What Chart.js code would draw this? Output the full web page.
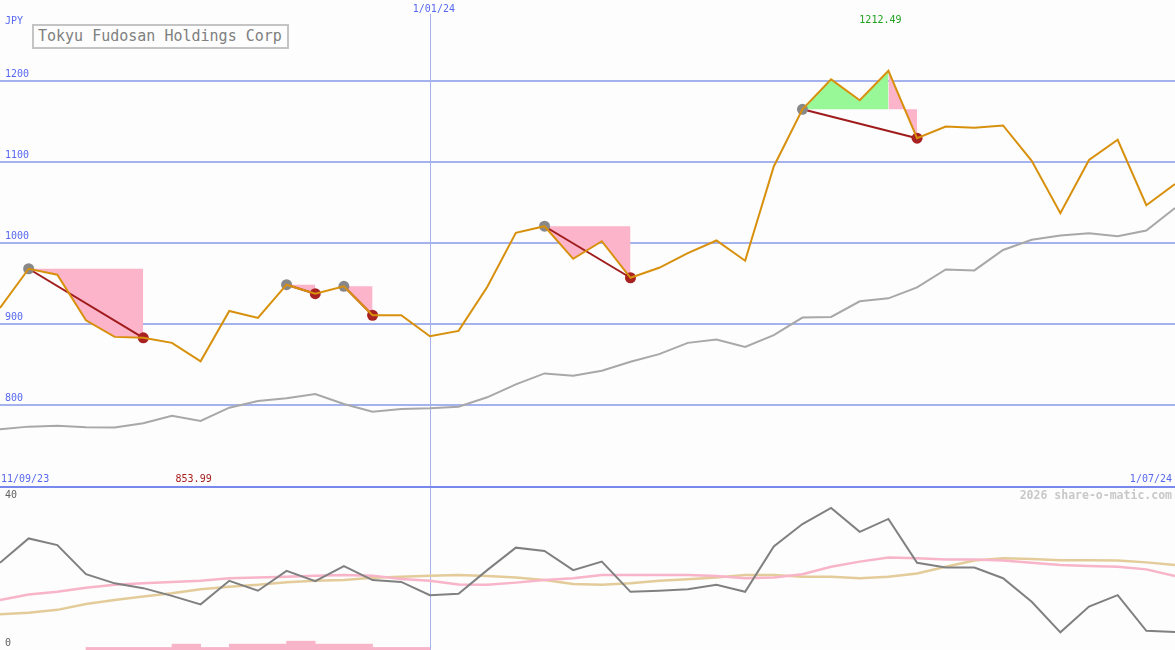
<!DOCTYPE html>
<html>
<head>
<meta charset="utf-8">
<script src="https://cdn.jsdelivr.net/npm/chart.js@4.4.1/dist/chart.umd.min.js"></script>
<style>
  body { margin: 0; background: #fcfdfc; }
  #wrap { position: relative; width: 1175px; height: 650px; background: #fcfdfc; overflow: hidden; }
  #top { position: absolute; left: 0; top: 0; }
  #sep { position: absolute; left: 0; top: 486px; width: 1175px; height: 2px; background: #7888ec; }
  #bot { position: absolute; left: 0; top: 488px; }
  #title {
    position: absolute; left: 32px; top: 24px; width: 249px; height: 21px;
    padding-left: 4px; border: 2px solid #c4c4c4; background: #fcfdfc;
    font: 15px 'DejaVu Sans Mono', monospace; line-height: 21px; color: #808080; white-space: nowrap;
  }
</style>
</head>
<body>
<div id="wrap">
  <canvas id="top" width="1175" height="486"></canvas>
  <div id="sep"></div>
  <canvas id="bot" width="1175" height="162"></canvas>
  <div id="title">Tokyu Fudosan Holdings Corp</div>
</div>
<script>
// weekly closes, JPY
const price = [919.8, 968.2, 960.8, 904.6, 884.1, 882.9, 876.7, 853.99, 916.1, 907.5,
  948.5, 937.4, 946.5, 910.8, 910.8, 884.9, 891.5, 945.6, 1012.5, 1020.7,
  980.5, 1002.2, 957.1, 969.4, 987.5, 1003.1, 978.1, 1094.5, 1165.1, 1202.0,
  1176.2, 1212.49, 1129.4, 1143.8, 1142.2, 1145.1, 1101.5, 1036.7, 1102.4, 1127.4,
  1046.6, 1072.8];
const movingAvg = [770.1, 773.3, 774.5, 772.5, 772.1, 777.5, 786.8, 780.3, 796.7, 804.9,
  808.2, 813.5, 801.2, 791.8, 795.1, 795.9, 797.9, 809.5, 825.5, 839.0,
  836.1, 842.2, 853.3, 862.8, 876.7, 880.9, 871.7, 886.2, 907.9, 908.7,
  928.0, 931.7, 945.2, 967.4, 966.2, 991.4, 1003.9, 1009.2, 1012.1, 1008.4,
  1015.4, 1043.3];

// drawdown zones: start (gray dot), peak, trough (red dot)
const ddStart = [1, 10, 12, 19, 28];
const ddPeak = [1, 10, 12, 19, 31];
const ddEnd = [5, 11, 13, 22, 32];

// lower panel
const oscLine = [23.7, 30.3, 28.5, 20.6, 18.1, 16.8, 14.7, 12.4, 18.8, 16.1,
  21.5, 18.7, 22.8, 19.0, 18.5, 14.9, 15.3, 21.7, 27.8, 26.9,
  21.7, 24.0, 15.8, 16.1, 16.5, 17.7, 15.8, 28.1, 34.2, 38.6,
  32.1, 35.6, 23.7, 22.4, 22.4, 19.5, 13.1, 4.8, 11.8, 14.9,
  5.2, 4.9];
const oscPink = [13.6, 15.1, 15.8, 16.9, 17.7, 18.1, 18.5, 18.8, 19.5, 19.7,
  19.9, 20.2, 20.4, 20.2, 19.3, 18.8, 17.8, 17.7, 18.3, 19.0,
  19.5, 20.4, 20.4, 20.4, 20.4, 20.1, 19.5, 19.7, 20.6, 22.6,
  24.0, 25.1, 24.9, 24.6, 24.6, 24.3, 23.7, 23.1, 22.8, 22.6,
  21.9, 20.1];
const oscTan = [9.7, 10.1, 10.9, 12.5, 13.6, 14.5, 15.4, 16.5, 17.2, 17.7,
  18.4, 18.8, 19.0, 19.6, 19.9, 20.2, 20.4, 20.1, 19.7, 19.0,
  17.9, 17.7, 18.1, 18.8, 19.2, 19.7, 20.4, 20.4, 19.9, 19.9,
  19.5, 19.9, 20.8, 22.6, 24.3, 24.9, 24.7, 24.4, 24.4, 24.3,
  23.8, 23.1];
const ddBars = [null, null, null, 0.7, 0.7, 0.7, 1.6, 0.7, 1.6, 1.6,
  2.4, 1.6, 1.6, 0.7, 0.7, null, null, null, null, null,
  null, null, null, null, null, null, null, null, null, null,
  null, null, null, null, null, null, null, null, null, null,
  null];

const priceTicks = [800, 900, 1000, 1100, 1200];
const oscTicks = [0, 40];
const firstDate = '11/09/23';
const yearDate = '1/01/24';
const lastDate = '1/07/24';
const yearIdx = 15;

const MONO = "'DejaVu Sans Mono', monospace";
const pts = (arr, dx = 0) => arr.map((v, i) => ({ x: i + dx, y: v }));
const part = (arr, a, b) => pts(arr.map((v, i) => (i >= a && i <= b ? v : null)));

const datasets = [
  { data: pts(price), borderColor: '#d8900c', borderWidth: 2, pointRadius: 0, order: 0 },
  { data: ddStart.map(i => ({ x: i, y: price[i] })), showLine: false, pointRadius: 5.5,
    pointBackgroundColor: '#888888', pointBorderWidth: 0, order: 1 },
  { data: ddEnd.map(i => ({ x: i, y: price[i] })), showLine: false, pointRadius: 5.5,
    pointBackgroundColor: '#a82222', pointBorderWidth: 0, order: 1 },
  { data: pts(movingAvg), borderColor: '#a8a8a8', borderWidth: 2, pointRadius: 0, order: 9 }
];
ddStart.forEach((s, k) => {
  const level = price.map(() => price[s]);
  datasets.push({ data: [{ x: s, y: price[s] }, { x: ddEnd[k], y: price[ddEnd[k]] }],
    borderColor: '#a01c1c', borderWidth: 2, pointRadius: 0, order: 2 });
  const zones = [];
  if (ddPeak[k] > s) zones.push([s, ddPeak[k], '#98f898']);
  zones.push([ddPeak[k], ddEnd[k], '#fbb4ca']);
  zones.forEach(([a, b, col]) => {
    datasets.push({ data: part(price, a, b), borderWidth: 0, pointRadius: 0, order: 5,
      fill: { target: '+1', above: col, below: col }, backgroundColor: col });
    datasets.push({ data: part(level, a, b), borderWidth: 0, pointRadius: 0, order: 5 });
  });
});

function flatAxis(s) { s.width = 0; s.paddingTop = 0; s.paddingBottom = 0; }

const topNotes = {
  id: 'topNotes',
  beforeDatasetsDraw(chart) {
    const { ctx, scales: { x }, chartArea } = chart;
    const px = Math.round(x.getPixelForValue(yearIdx)) + 0.5;
    ctx.save();
    ctx.strokeStyle = '#a4b2ee';
    ctx.lineWidth = 1;
    ctx.beginPath();
    ctx.moveTo(px, 14);
    ctx.lineTo(px, chartArea.bottom);
    ctx.stroke();
    ctx.restore();
  },
  afterDraw(chart) {
    const { ctx, scales: { x } } = chart;
    ctx.save();
    ctx.font = '10px ' + MONO;
    ctx.textBaseline = 'middle';
    ctx.fillStyle = '#5868f0';
    ctx.textAlign = 'left';
    ctx.fillText('JPY', 5, 21);
    ctx.fillText(firstDate, 1, 479);
    ctx.textAlign = 'center';
    ctx.fillText(yearDate, x.getPixelForValue(yearIdx) + 4, 9);
    ctx.textAlign = 'right';
    ctx.fillText(lastDate, 1172, 479);
    const hi = Math.max(...price), lo = Math.min(...price);
    ctx.textAlign = 'center';
    ctx.fillStyle = '#22a022';
    ctx.fillText(hi.toFixed(2), x.getPixelForValue(price.indexOf(hi)) - 8, 20);
    ctx.fillStyle = '#a82020';
    ctx.fillText(lo.toFixed(2), x.getPixelForValue(price.indexOf(lo)) - 7, 479);
    ctx.restore();
  }
};

new Chart(document.getElementById('top'), {
  type: 'line',
  data: { datasets },
  options: {
    responsive: false, animation: false,
    layout: { padding: 0, autoPadding: false },
    plugins: { legend: { display: false }, tooltip: { enabled: false } },
    elements: { line: { tension: 0 } },
    scales: {
      x: { type: 'linear', min: 0, max: price.length - 1, display: false },
      y: {
        min: 700, max: 1300,
        afterBuildTicks: s => { s.ticks = priceTicks.map(v => ({ value: v })); },
        afterFit: flatAxis,
        border: { display: false },
        grid: { color: '#a4b2ee', lineWidth: 2, drawTicks: false },
        ticks: { mirror: true, padding: 5, labelOffset: -7, color: '#5868f0',
          font: { family: MONO, size: 10 }, callback: v => String(v) }
      }
    }
  },
  plugins: [topNotes]
});

const botNotes = {
  id: 'botNotes',
  beforeDatasetsDraw(chart) {
    const { ctx, scales: { x }, chartArea } = chart;
    const px = Math.round(x.getPixelForValue(yearIdx)) + 0.5;
    ctx.save();
    ctx.strokeStyle = '#a4b2ee';
    ctx.lineWidth = 1;
    ctx.beginPath();
    ctx.moveTo(px, 0);
    ctx.lineTo(px, chartArea.bottom);
    ctx.stroke();
    ctx.restore();
  },
  afterDraw(chart) {
    const { ctx } = chart;
    ctx.save();
    ctx.font = 'bold 11.5px ' + MONO;
    ctx.textBaseline = 'middle';
    ctx.textAlign = 'right';
    ctx.fillStyle = '#c8c8c8';
    ctx.fillText('2026 share-o-matic.com', 1172, 8);
    ctx.restore();
  }
};

new Chart(document.getElementById('bot'), {
  type: 'line',
  data: {
    datasets: [
      { data: pts(oscLine), borderColor: '#808080', borderWidth: 2, pointRadius: 0, order: 0 },
      { data: pts(oscPink), borderColor: '#f8b4c8', borderWidth: 2.5, pointRadius: 0, order: 1 },
      { data: pts(oscTan), borderColor: '#e4cc9a', borderWidth: 2.5, pointRadius: 0, order: 2 },
      { type: 'bar', data: pts(ddBars, 0.5), backgroundColor: '#f8b4c8',
        barPercentage: 1, categoryPercentage: 1, order: 3 }
    ]
  },
  options: {
    responsive: false, animation: false,
    layout: { padding: 0, autoPadding: false },
    plugins: { legend: { display: false }, tooltip: { enabled: false } },
    elements: { line: { tension: 0 } },
    scales: {
      x: { type: 'linear', min: 0, max: price.length - 1, display: false, offset: false },
      y: {
        min: 0, max: 44,
        afterBuildTicks: s => { s.ticks = oscTicks.map(v => ({ value: v })); },
        afterFit: flatAxis,
        border: { display: false },
        grid: { display: false },
        ticks: { mirror: true, padding: 5, labelOffset: -7, color: '#606060',
          font: { family: MONO, size: 10 } }
      }
    }
  },
  plugins: [botNotes]
});
</script>
</body>
</html>
